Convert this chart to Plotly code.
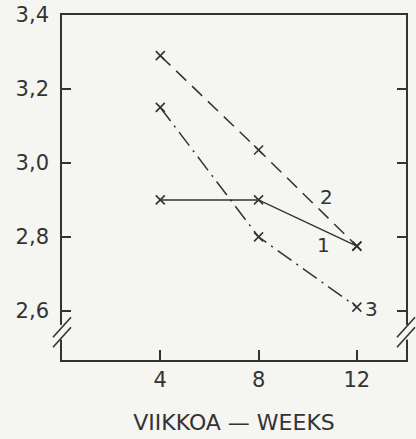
import plotly.graph_objects as go

# Weeks on the x axis and the three measured series
weeks = [4, 8, 12]
series_1 = [2.90, 2.90, 2.775]
series_2 = [3.29, 3.035, 2.775]
series_3 = [3.15, 2.80, 2.61]

y_ticks = [2.6, 2.8, 3.0, 3.2, 3.4]
y_tick_text = ["2,6", "2,8", "3,0", "3,2", "3,4"]
x_ticks = [4, 8, 12]
x_title = "VIIKKOA — WEEKS"

# Where each series number is written
label_names = ["1", "2", "3"]
label_x = [10.65, 10.75, 12.6]
label_y = [2.779, 2.909, 2.606]

# Axis break position (data units on y)
break_lo, break_hi = 2.522, 2.562
break_mid = 2.542

INK = "#333333"
PAPER = "#f5f5f2"
Y_RANGE = [2.467, 3.4]
X_RANGE = [0, 14]

fig = go.Figure()

styles = [
    (series_1, "solid"),
    (series_2, "14px,8px"),
    (series_3, "17px,6px,2px,6px"),
]
for values, dash in styles:
    fig.add_trace(go.Scatter(
        x=weeks, y=values, mode="lines+markers",
        line=dict(color=INK, width=1.5, dash=dash),
        marker=dict(symbol="x-thin", size=9, line=dict(color=INK, width=1.6)),
        showlegend=False, hoverinfo="skip",
    ))

for name, lx, ly in zip(label_names, label_x, label_y):
    fig.add_annotation(x=lx, y=ly, text=name, showarrow=False,
                       font=dict(size=20, color=INK, family="DejaVu Sans"),
                       xanchor="center", yanchor="middle")

line_style = dict(color=INK, width=1.6)
shapes = []
for side in (0, 1):
    # gap in the vertical edge at the break
    shapes.append(dict(type="rect", xref="x domain", yref="y",
                       xsizemode="pixel", xanchor=side, x0=-3, x1=3,
                       y0=break_lo, y1=break_hi, fillcolor=PAPER,
                       line=dict(width=0), layer="above"))
    # double slash marking the broken scale
    for off in (5, -5):
        shapes.append(dict(type="line", xref="x domain", yref="y",
                           xsizemode="pixel", ysizemode="pixel",
                           xanchor=side, yanchor=break_mid,
                           x0=-9, x1=9, y0=off - 10, y1=off + 10,
                           line=line_style, layer="above"))
fig.update_layout(shapes=shapes)

tick_font = dict(size=21, color=INK, family="DejaVu Sans")
axis_common = dict(showgrid=False, zeroline=False,
                   showline=True, linecolor=INK, linewidth=1.6,
                   ticks="inside", tickwidth=1.6, tickcolor=INK)
fig.update_layout(
    template="none",
    width=416, height=439,
    margin=dict(l=62, r=10, t=15, b=79),
    paper_bgcolor=PAPER, plot_bgcolor=PAPER,
    # bottom axis with a plain mirrored line along the top
    xaxis=dict(range=X_RANGE, tickvals=x_ticks, tickfont=tick_font,
               ticklen=10, mirror=True,
               title=dict(text=x_title, standoff=24,
                          font=dict(size=22, color=INK, family="DejaVu Sans")),
               **axis_common),
    # left axis, mirrored with its ticks on the right edge
    yaxis=dict(range=Y_RANGE, tickvals=y_ticks, ticktext=y_tick_text,
               tickfont=tick_font, ticklabelstandoff=7, ticklen=9,
               mirror="ticks",
               **axis_common),
)

fig.write_html("out.html")
